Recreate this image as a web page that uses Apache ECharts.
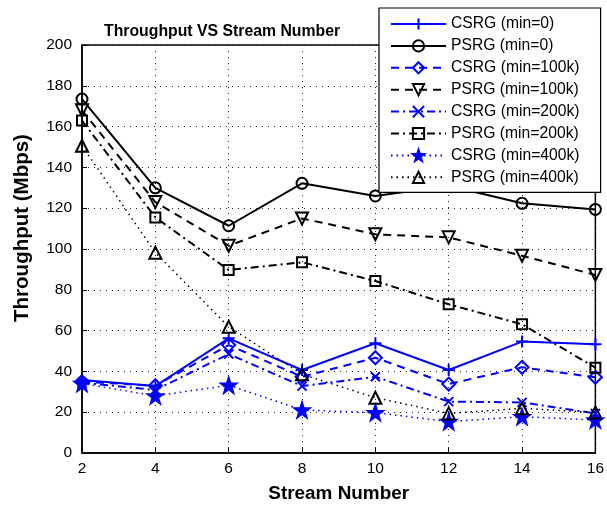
<!DOCTYPE html>
<html>
<head>
<meta charset="utf-8">
<script src="https://cdn.jsdelivr.net/npm/echarts@6/dist/echarts.min.js"></script>
<style>html,body{margin:0;padding:0;background:#fff}#c{width:607px;height:510px}</style>
</head>
<body>
<div id="c"></div>
<script>
var streams = [2, 4, 6, 8, 10, 12, 14, 16];
var seriesNames = ['CSRG (min=0)', 'PSRG (min=0)', 'CSRG (min=100k)', 'PSRG (min=100k)',
  'CSRG (min=200k)', 'PSRG (min=200k)', 'CSRG (min=400k)', 'PSRG (min=400k)'];
var csrg0   = [35.8, 32.8, 56.2, 40.7, 53.8, 40.7, 54.6, 53.3];
var psrg0   = [173.5, 130, 111.4, 132.2, 126, 131, 122.4, 119.4];
var csrg100 = [35, 33, 52.9, 37.4, 46.7, 33.8, 42, 37.1];
var psrg100 = [168, 123, 101.6, 115, 107.2, 105.7, 96.7, 87.3];
var csrg200 = [34.5, 30.9, 48.5, 32.8, 37.4, 25.2, 24.8, 19.4];
var psrg200 = [163, 115.5, 89.7, 93.5, 84.3, 72.9, 63.1, 41.8];
var csrg400 = [34.1, 28, 33.2, 21.1, 19.8, 15.4, 17.8, 16.2];
var psrg400 = [150.6, 98.2, 61.9, 38.6, 27.1, 19.4, 21.9, 19.9];
var allValues = [csrg0, psrg0, csrg100, psrg100, csrg200, psrg200, csrg400, psrg400];

var BLUE = '#0000ff', BLACK = '#000000';
var FONT = 'Liberation Sans, Arial, Helvetica, sans-serif';
var SYM = {
  plus: 'path://M5,0 L5,10 M0,5 L10,5',
  circle: 'path://M10,5 A5,5 0 1 1 0,5 A5,5 0 1 1 10,5 Z',
  diamond: 'path://M5,0 L10,5 L5,10 L0,5 Z',
  tdown: 'path://M0,0 L10,0 L5,9 Z',
  cross: 'path://M0,0 L10,10 M10,0 L0,10',
  square: 'path://M0,0 L10,0 L10,10 L0,10 Z',
  star: 'path://M50,0 L61.8,35.1 L98.1,35.1 L68.8,56.8 L79.4,91 L50,70 L20.6,91 L31.2,56.8 L1.9,35.1 L38.2,35.1 Z',
  tup: 'path://M5,0 L10,9 L0,9 Z'
};
var styles = [
  {c: BLUE,  sym: SYM.plus,    size: 12, dash: 'solid',       fill: 'transparent', w: 2},
  {c: BLACK, sym: SYM.circle,  size: 11, dash: 'solid',       fill: 'transparent', w: 2},
  {c: BLUE,  sym: SYM.diamond, size: 13, dash: [8, 6],        fill: 'transparent', w: 2},
  {c: BLACK, sym: SYM.tdown,   size: 12, dash: [8, 6],        fill: 'transparent', w: 2},
  {c: BLUE,  sym: SYM.cross,   size: 9,  dash: [8, 4, 2, 4],  fill: 'transparent', w: 2},
  {c: BLACK, sym: SYM.square,  size: 10, dash: [8, 4, 2, 4],  fill: 'transparent', w: 2},
  {c: BLUE,  sym: SYM.star,    size: 15, dash: [1.5, 4],      fill: BLUE,          w: 1.5},
  {c: BLACK, sym: SYM.tup,     size: 12, dash: [1.5, 4],      fill: 'transparent', w: 1.5}
];

var series = seriesNames.map(function (name, i) {
  var s = styles[i];
  return {
    name: name,
    type: 'line',
    data: streams.map(function (x, j) { return [x, allValues[i][j]]; }),
    symbol: s.sym,
    symbolSize: s.size,
    showAllSymbol: true,
    lineStyle: {color: s.c, width: s.w, type: s.dash},
    itemStyle: {color: s.fill, borderColor: s.c, borderWidth: 2},
    emphasis: {disabled: true},
    animation: false
  };
});

var chart = echarts.init(document.getElementById('c'), null, {renderer: 'canvas'});
chart.setOption({
  backgroundColor: '#fff',
  animation: false,
  title: {
    text: 'Throughput VS Stream Number',
    left: 99, top: 19,
    textStyle: {fontFamily: FONT, fontSize: 15.8, fontWeight: 'bold', color: '#000'}
  },
  legend: {
    orient: 'vertical',
    left: 379, top: 8,
    padding: [8, 21, 7, 11],
    itemWidth: 55, itemHeight: 14, itemGap: 5.9,
    backgroundColor: '#fff',
    borderColor: '#000', borderWidth: 1.2,
    textStyle: {fontFamily: FONT, fontSize: 15.7, color: '#000'},
    data: seriesNames
  },
  grid: {left: 82, right: 8, top: 45, bottom: 57, show: true, borderColor: '#000', borderWidth: 1.5, backgroundColor: 'transparent'},
  xAxis: {
    type: 'value', min: 2, max: 16, interval: 2,
    name: 'Stream Number', nameLocation: 'middle', nameGap: 31,
    nameTextStyle: {fontFamily: FONT, fontSize: 18.9, fontWeight: 'bold', color: '#000'},
    axisLine: {lineStyle: {color: '#000', width: 1.5}},
    axisTick: {inside: true, length: 5, lineStyle: {color: '#000'}},
    axisLabel: {fontFamily: FONT, fontSize: 15.5, color: '#000', margin: 8},
    splitLine: {show: true, lineStyle: {color: '#222', width: 1, type: [1, 5]}}
  },
  yAxis: {
    type: 'value', min: 0, max: 200, interval: 20,
    name: 'Throughput (Mbps)', nameLocation: 'middle', nameGap: 49,
    nameTextStyle: {fontFamily: FONT, fontSize: 20.5, fontWeight: 'bold', color: '#000', padding: [0, 0, 0, 42]},
    axisLine: {lineStyle: {color: '#000', width: 1.5}},
    axisTick: {inside: true, length: 5, lineStyle: {color: '#000'}},
    axisLabel: {fontFamily: FONT, fontSize: 15.5, color: '#000', margin: 10},
    splitLine: {show: true, lineStyle: {color: '#222', width: 1, type: [1, 5]}}
  },
  series: series
});
</script>
</body>
</html>
